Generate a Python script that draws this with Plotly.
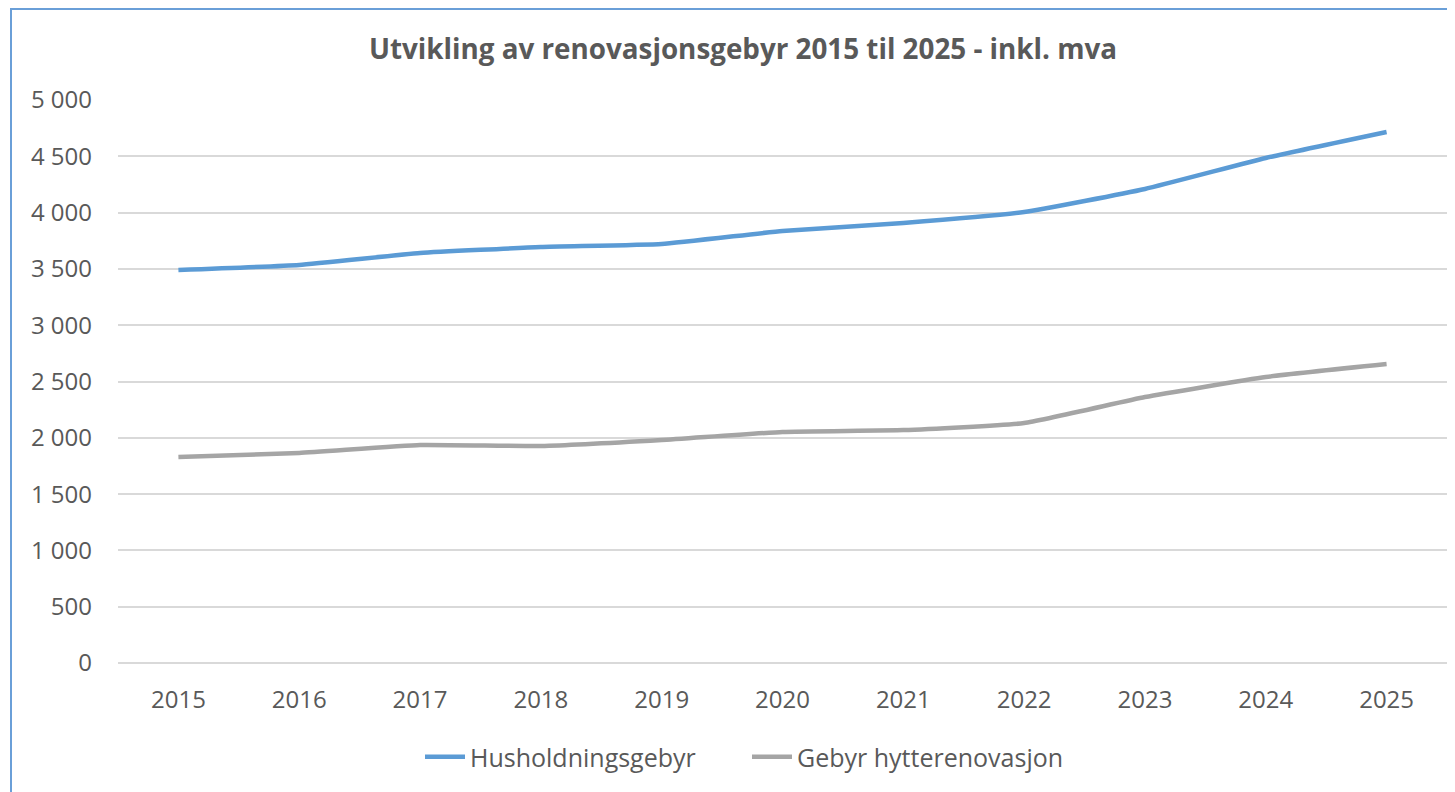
import plotly.graph_objects as go

years = ["2015", "2016", "2017", "2018", "2019", "2020", "2021", "2022", "2023", "2024", "2025"]
husholdning = [3490, 3535, 3641, 3694, 3721, 3837, 3908, 4005, 4210, 4485, 4716]
hytte = [1830, 1865, 1936, 1927, 1980, 2052, 2069, 2131, 2362, 2540, 2655]
y_ticks = [0, 500, 1000, 1500, 2000, 2500, 3000, 3500, 4000, 4500, 5000]

FONT = "Open Sans"
TXT = "#595959"

fig = go.Figure()
fig.add_trace(go.Scatter(x=years, y=husholdning, mode="lines", name="Husholdningsgebyr",
                         line=dict(color="#5B9BD5", width=4.5, shape="spline", smoothing=0.4)))
fig.add_trace(go.Scatter(x=years, y=hytte, mode="lines", name="Gebyr hytterenovasjon",
                         line=dict(color="#A5A5A5", width=4.5, shape="spline", smoothing=0.4)))

# page body has an 8px default margin; figure coords = screen coords - 8
OFF = 8
W, H = 1455 - OFF, 792 - OFF
L, R, T, B = 118 - OFF, 8, 100 - OFF, 129
pw, ph = W - L - R, H - T - B

def px_x(sx):
    return (sx - OFF - L) / pw

def px_y(sy):
    return 1 - (sy - OFF - T) / ph

fig.update_layout(
    width=W, height=H,
    margin=dict(l=L, r=R, t=T, b=B, autoexpand=False),
    paper_bgcolor="white", plot_bgcolor="white",
    separators=", ",
    font=dict(family=FONT, color=TXT, size=24),
    title=dict(text="<b>Utvikling av renovasjonsgebyr 2015 til 2025 - inkl. mva</b>",
               x=px_x(743), xref="paper", xanchor="center",
               y=1 - (49 - OFF) / H, yanchor="middle",
               font=dict(family=FONT, size=27.8, color=TXT)),
    xaxis=dict(type="category", range=[-0.5, 10.5], showgrid=False, showline=False, ticks="",
               tickfont=dict(size=24, color=TXT), ticklabelstandoff=20),
    yaxis=dict(range=[0, 5000], tickvals=y_ticks, tickformat=",d",
               showgrid=True, gridcolor="#D9D9D9", gridwidth=1.5,
               zeroline=True, zerolinecolor="#D9D9D9", zerolinewidth=1.5,
               showline=False, ticks="", tickfont=dict(size=24, color=TXT),
               ticklabelstandoff=25),
    legend=dict(orientation="h", x=px_x(747), xanchor="center",
                y=px_y(757), yanchor="middle",
                font=dict(size=25, color=TXT), itemwidth=40,
                entrywidth=272, entrywidthmode="pixels",
                bgcolor="rgba(0,0,0,0)"),
    showlegend=True,
)

# chart-area border (light blue frame like the Excel chart)
fig.add_shape(type="rect", xref="paper", yref="paper",
              x0=px_x(11), x1=px_x(1455 + 20),
              y0=px_y(792 + 20), y1=px_y(9),
              line=dict(color="#6A9FD8", width=2), fillcolor="rgba(0,0,0,0)",
              layer="below")

fig.write_html("out.html")
